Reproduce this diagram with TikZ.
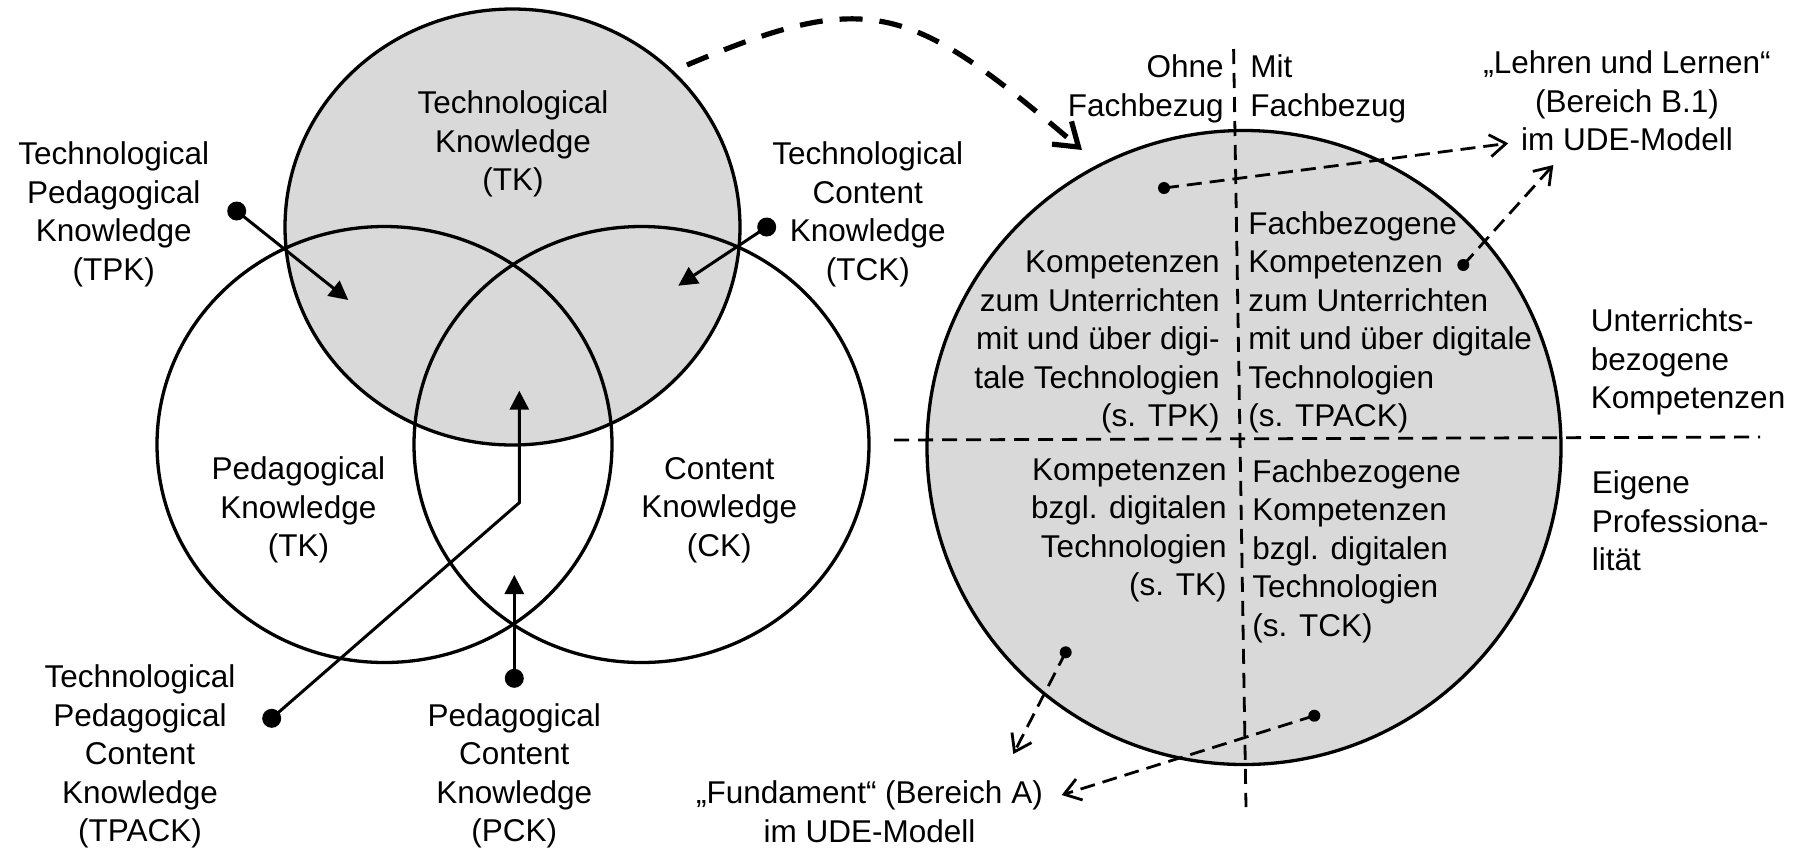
\documentclass[tikz,border=0pt]{standalone}
\usepackage{fontspec}
\setmainfont{Liberation Sans}
\usetikzlibrary{arrows.meta}
\definecolor{areagray}{RGB}{217,217,217}
\begin{document}
\begin{tikzpicture}[x=0.5pt,y=-0.5pt,
  lbl/.style={font=\fontsize{15.75}{19.25}\selectfont, inner sep=0pt, align=center},
  lbll/.style={lbl, align=left, anchor=west},
  lblr/.style={lbl, align=right, anchor=east},
  ring/.style={line width=1.65pt},
  bigdot/.style={circle, fill=black, inner sep=0pt, minimum size=9.5pt},
  smalldot/.style={circle, fill=black, inner sep=0pt, minimum size=6pt},
  solidarrow/.style={line width=1.5pt, -{Triangle[length=9.5pt,width=9.5pt]}},
  dasharrow/.style={line width=1.4pt, dash pattern=on 7.5pt off 4pt,
    -{Straight Barb[length=8pt,width=11pt]}},
  divider/.style={line width=1.4pt, dash pattern=on 7.5pt off 4.5pt},
  bigarrow/.style={line width=2.6pt, dash pattern=on 11.5pt off 8.5pt,
    -{Straight Barb[length=11pt,width=15pt]}}
]
\useasboundingbox (0,0) rectangle (1800,848);

% ---- TPACK Venn diagram ----
\fill[areagray] (512.5,227) ellipse [x radius=227.5, y radius=218];
\draw[ring] (512.5,227) ellipse [x radius=227.5, y radius=218];
\draw[ring] (384.5,444.5) ellipse [x radius=227.5, y radius=218];
\draw[ring] (641.5,444.5) ellipse [x radius=227.5, y radius=218];

\node[lbl] (tk) at (513,144) {Technological\\Knowledge\\(TK)};
\node[lbl] (pk) at (298.4,510) {Pedagogical\\Knowledge\\(TK)};
\node[lbl] (ck) at (719.2,510) {Content\\Knowledge\\(CK)};
\node[lbl] (tpk) at (113.7,214.5) {Technological\\Pedagogical\\Knowledge\\(TPK)};
\node[lbl] (tck) at (867.8,214.5) {Technological\\Content\\Knowledge\\(TCK)};
\node[lbl] (tpack) at (140,756.5) {Technological\\Pedagogical\\Content\\Knowledge\\(TPACK)};
\node[lbl] (pck) at (514.2,776) {Pedagogical\\Content\\Knowledge\\(PCK)};

% pointers into the overlap regions
\node[bigdot] (tpkdot) at (236.7,211) {};
\node[bigdot] (tckdot) at (766.7,227) {};
\node[bigdot] (tpackdot) at (271.7,718.3) {};
\node[bigdot] (pckdot) at (514.3,678.3) {};
\coordinate (tpktip) at (348.3,300);
\coordinate (tcktip) at (678.3,285.7);
\coordinate (tpackbend) at (519.3,502.7);
\coordinate (tpacktip) at (519.3,390.7);
\coordinate (pcktip) at (514.3,575);

\draw[solidarrow] (tpkdot.center) -- (tpktip);
\draw[solidarrow] (tckdot.center) -- (tcktip);
\draw[solidarrow] (tpackdot.center) -- (tpackbend) -- (tpacktip);
\draw[solidarrow] (pckdot.center) -- (pcktip);

% ---- transfer arrow ----
\coordinate (curvestart) at (687,65);
\coordinate (curveend) at (1082,150);
\draw[bigarrow] (curvestart) .. controls (871,-13) and (911,4) .. (curveend);

% ---- competence circle ----
\fill[areagray] (1244,447.5) circle [radius=317];
\draw[ring] (1244,447.5) circle [radius=317];
\coordinate (vtop) at (1233.6,49);
\coordinate (vbot) at (1246,807);
\coordinate (hleft) at (894,440);
\coordinate (hright) at (1760,437);
\draw[divider] (vtop) -- (vbot);
\draw[divider] (hleft) -- (hright);

\node[lblr] (ohne) at (1224,89) {Ohne\\Fachbezug};
\node[lbll] (mit) at (1250,89) {Mit\\Fachbezug};

\node[lblr] (qtl) at (1220,342) {Kompetenzen\\zum Unterrichten\\mit und über digi-\\tale Technologien\\(s. TPK)};
\node[lbll] (qtr) at (1248,322.5) {Fachbezogene\\Kompetenzen\\zum Unterrichten\\mit und über digitale\\Technologien\\(s. TPACK)};
\node[lblr] (qbl) at (1227,530.5) {Kompetenzen\\bzgl. digitalen\\Technologien\\(s. TK)};
\node[lbll] (qbr) at (1252,551.3) {Fachbezogene\\Kompetenzen\\bzgl. digitalen\\Technologien\\(s. TCK)};

\node[lbll] (unterricht) at (1590.5,362) {Unterrichts-\\bezogene\\Kompetenzen};
\node[lbll] (eigene) at (1591.5,521) {Eigene\\Professiona-\\lität};

\node[lbl] (lehren) at (1627,101) {„Lehren und Lernen“\\(Bereich B.1)\\im UDE-Modell};
\node[lbl] (fundament) at (869.5,811.5) {„Fundament“ (Bereich A)\\im UDE-Modell};

% pointers to the UDE model areas
\node[smalldot] (d1) at (1164,188) {};
\node[smalldot] (d2) at (1463.3,265) {};
\node[smalldot] (d3) at (1065.7,652.3) {};
\node[smalldot] (d4) at (1314.3,715.7) {};
\coordinate (t1) at (1508.3,143.3);
\coordinate (t2) at (1553.3,165);
\coordinate (t3) at (1013.3,754);
\coordinate (t4) at (1061.7,795);
\draw[dasharrow] (d1.center) -- (t1);
\draw[dasharrow] (d2.center) -- (t2);
\draw[dasharrow] (d3.center) -- (t3);
\draw[dasharrow] (d4.center) -- (t4);
\end{tikzpicture}
\end{document}
